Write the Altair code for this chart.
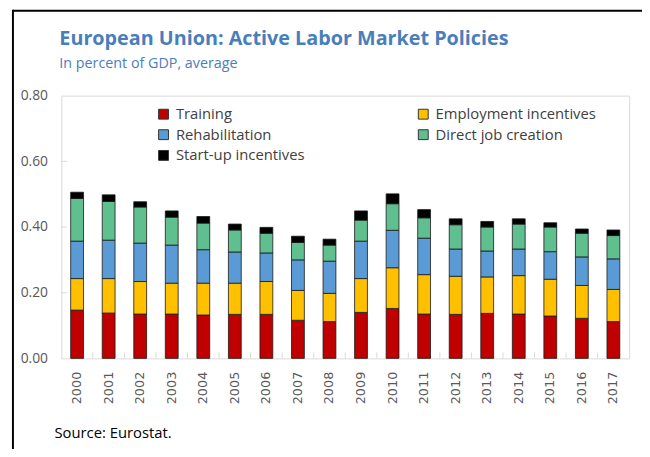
import altair as alt
import pandas as pd

years = [str(y) for y in range(2000, 2018)]
training = [0.147, 0.138, 0.135, 0.135, 0.132, 0.134, 0.134, 0.116, 0.112,
            0.140, 0.152, 0.135, 0.134, 0.137, 0.135, 0.129, 0.122, 0.112]
employment = [0.096, 0.105, 0.099, 0.094, 0.097, 0.095, 0.100, 0.091, 0.086,
              0.103, 0.124, 0.120, 0.116, 0.111, 0.117, 0.112, 0.100, 0.098]
rehabilitation = [0.114, 0.117, 0.117, 0.116, 0.102, 0.095, 0.087, 0.093, 0.098,
                  0.114, 0.114, 0.111, 0.083, 0.079, 0.081, 0.084, 0.087, 0.093]
direct_job = [0.130, 0.118, 0.110, 0.085, 0.081, 0.067, 0.060, 0.053, 0.049,
              0.064, 0.081, 0.062, 0.074, 0.073, 0.076, 0.075, 0.072, 0.071]
startup = [0.019, 0.020, 0.016, 0.019, 0.020, 0.018, 0.018, 0.019, 0.018,
           0.028, 0.030, 0.025, 0.018, 0.017, 0.016, 0.013, 0.013, 0.017]

categories = ["Training", "Employment incentives", "Rehabilitation",
              "Direct job creation", "Start-up incentives"]
colors = ["#C00000", "#FFC000", "#5B9BD5", "#60BF8F", "#000000"]
y_tick_values = [0.0, 0.2, 0.4, 0.6, 0.8]
inner_ticks = [0.2, 0.4, 0.6]
title_text = "European Union: Active Labor Market Policies"
subtitle_text = "In percent of GDP, average"
source_text = "Source: Eurostat."

series = [training, employment, rehabilitation, direct_job, startup]
rows = []
for i, yr in enumerate(years):
    for k, (cat, ser) in enumerate(zip(categories, series)):
        rows.append({"year": yr, "policy": cat, "share": ser[i], "k": k})
df = pd.DataFrame(rows)

W, H = 575, 266
one = pd.DataFrame({"a": [0]})

bars = alt.Chart(df).mark_bar(size=13, stroke="#1a1a1a", strokeWidth=0.8).encode(
    x=alt.X("year:N", sort=years,
            scale=alt.Scale(paddingInner=0, paddingOuter=0),
            axis=alt.Axis(title=None, labelAngle=-90, ticks=False, domain=False,
                          labelFont="DejaVu Sans", labelFontSize=13,
                          labelColor="#595959", labelPadding=13)),
    y=alt.Y("share:Q", stack="zero",
            scale=alt.Scale(domain=[0, 0.8]),
            axis=alt.Axis(title=None, values=y_tick_values, format=".2f",
                          ticks=False, domain=False, grid=False,
                          labelPadding=14, labelFontSize=14,
                          labelColor="#595959", labelFont="Open Sans")),
    color=alt.Color("policy:N",
                    scale=alt.Scale(domain=categories, range=colors),
                    legend=alt.Legend(title=None, orient="none", legendX=96, legendY=11,
                                      columns=2, direction="horizontal",
                                      columnPadding=112, rowPadding=5,
                                      labelLimit=400,
                                      symbolType="square", symbolSize=100,
                                      symbolStrokeColor="#333333", symbolStrokeWidth=1,
                                      symbolOpacity=1,
                                      labelFontSize=15, labelFont="Open Sans",
                                      labelColor="#404040", labelOffset=5)),
    order=alt.Order("k:Q"),
)

xt = pd.DataFrame({"year": years[1:]})
xticks = alt.Chart(xt).mark_rule(color="#D9D9D9", strokeWidth=1).encode(
    x=alt.X("year:N", bandPosition=0),
    y=alt.value(H - 6), y2=alt.value(H),
)

yt = pd.DataFrame({"share": inner_ticks})
yticks = alt.Chart(yt).mark_rule(color="#D9D9D9", strokeWidth=1).encode(
    y=alt.Y("share:Q"),
    x=alt.value(0), x2=alt.value(6),
)

frame_top = alt.Chart(one).mark_rule(color="black", strokeWidth=2).encode(
    x=alt.value(-49), x2=alt.value(W + 20), y=alt.value(-86), y2=alt.value(-86))
frame_left = alt.Chart(one).mark_rule(color="black", strokeWidth=2).encode(
    x=alt.value(-49), x2=alt.value(-49), y=alt.value(-87), y2=alt.value(H + 100))

title = alt.Chart(one).mark_text(align="left", baseline="alphabetic", fontSize=20,
                                 font="Open Sans", fontWeight="bold",
                                 color="#4A7EBB").encode(
    x=alt.value(-2), y=alt.value(-51), text=alt.value(title_text))
subtitle = alt.Chart(one).mark_text(align="left", baseline="alphabetic", fontSize=14.5,
                                    font="Open Sans", color="#4A7EBB").encode(
    x=alt.value(-2), y=alt.value(-28), text=alt.value(subtitle_text))

source = alt.Chart(one).mark_text(align="left", baseline="alphabetic", fontSize=15,
                                  font="Open Sans", color="black").encode(
    x=alt.value(-7), y=alt.value(H + 81), text=alt.value(source_text))

chart = alt.layer(bars, xticks, yticks, frame_top, frame_left,
                  title, subtitle, source).properties(
    width=W, height=H,
    autosize=alt.AutoSizeParams(type="none"),
    padding={"left": 54, "top": 86, "right": 13, "bottom": 89},
).configure_view(stroke="#D9D9D9", strokeWidth=1)

chart.save("out.html", embed_options={"renderer": "svg", "actions": False})
